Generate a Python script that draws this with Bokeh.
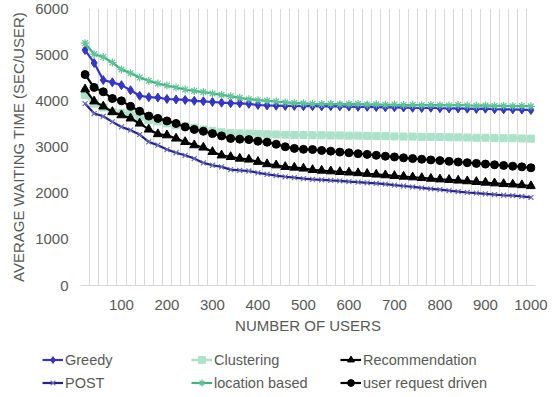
from bokeh.plotting import figure
from bokeh.layouts import column, row
from bokeh.models import FixedTicker, Legend, LegendItem, Range1d
from bokeh.embed import file_html
from bokeh.resources import INLINE

users = list(range(20, 1001, 20))

greedy = [5100, 4820, 4450, 4400, 4340, 4230, 4110, 4080, 4070, 4040,
          4030, 4020, 4000, 3990, 3975, 3960, 3950, 3945, 3935, 3910,
          3900, 3895, 3890, 3890, 3885, 3885, 3880, 3885, 3880, 3875,
          3870, 3870, 3865, 3860, 3860, 3855, 3850, 3845, 3850, 3840,
          3835, 3835, 3830, 3825, 3830, 3820, 3815, 3815, 3810, 3800]

clustering = [4120, 3940, 3855, 3760, 3740, 3720, 3650, 3580, 3555, 3510,
              3470, 3450, 3420, 3380, 3350, 3320, 3300, 3295, 3290, 3280,
              3275, 3270, 3265, 3260, 3260, 3255, 3255, 3250, 3250, 3245,
              3245, 3240, 3235, 3235, 3230, 3225, 3225, 3220, 3220, 3215,
              3210, 3210, 3205, 3200, 3200, 3195, 3190, 3190, 3185, 3180]

recommendation = [4250, 3990, 3880, 3760, 3690, 3620, 3510, 3380, 3280, 3255,
                  3185, 3110, 3040, 2990, 2895, 2820, 2785, 2750, 2730, 2680,
                  2630, 2605, 2570, 2555, 2535, 2505, 2490, 2475, 2460, 2450,
                  2435, 2420, 2405, 2390, 2375, 2360, 2345, 2330, 2315, 2300,
                  2290, 2275, 2260, 2245, 2230, 2215, 2200, 2190, 2175, 2155]

post = [3940, 3725, 3665, 3545, 3435, 3365, 3270, 3110, 3040, 2945,
        2875, 2820, 2750, 2655, 2605, 2570, 2510, 2495, 2480, 2440,
        2410, 2380, 2355, 2335, 2315, 2300, 2290, 2275, 2265, 2250,
        2240, 2225, 2210, 2195, 2175, 2155, 2135, 2115, 2095, 2075,
        2055, 2035, 2015, 2000, 1985, 1970, 1955, 1945, 1930, 1910]

location_based = [5250, 5010, 4950, 4830, 4680, 4600, 4505, 4435, 4375, 4330,
                  4290, 4245, 4215, 4190, 4160, 4130, 4100, 4065, 4035, 4015,
                  4000, 3985, 3965, 3955, 3945, 3935, 3930, 3935, 3925, 3930,
                  3935, 3920, 3925, 3915, 3920, 3910, 3915, 3905, 3910, 3905,
                  3900, 3910, 3900, 3895, 3900, 3890, 3895, 3885, 3890, 3880]

user_request = [4570, 4290, 4195, 4050, 4000, 3880, 3775, 3670, 3620, 3565,
                3510, 3435, 3380, 3340, 3290, 3240, 3185, 3170, 3160, 3125,
                3105, 3060, 3005, 2970, 2950, 2945, 2925, 2910, 2890, 2875,
                2855, 2840, 2820, 2800, 2785, 2765, 2750, 2735, 2720, 2705,
                2690, 2675, 2660, 2645, 2630, 2615, 2600, 2585, 2570, 2550]

x_ticks = [100, 200, 300, 400, 500, 600, 700, 800, 900, 1000]
y_ticks = [0, 1000, 2000, 3000, 4000, 5000, 6000]

FONT = "Liberation Sans"
TXT = "#595959"
GRID = "#D9D9D9"

p = figure(frame_width=455, frame_height=277, output_backend="svg", toolbar_location=None,
           x_range=Range1d(10, 1010), y_range=Range1d(0, 6000),
           min_border_left=80, min_border_right=19, min_border_top=8,
           min_border_bottom=57)
p.outline_line_color = None
p.background_fill_color = "white"
p.border_fill_color = "white"

p.xaxis.ticker = FixedTicker(ticks=x_ticks)
p.yaxis.ticker = FixedTicker(ticks=y_ticks)
p.xgrid.ticker = FixedTicker(ticks=[10 + 20 * k for k in range(51)])
p.xgrid.grid_line_color = GRID
p.xgrid.grid_line_width = 1
p.ygrid.visible = False

for ax in (p.xaxis[0], p.yaxis[0]):
    ax.major_tick_line_color = None
    ax.minor_tick_line_color = None
    ax.major_tick_out = 0
    ax.major_tick_in = 0
    ax.major_label_text_font = FONT
    ax.major_label_text_font_size = "15px"
    ax.major_label_text_color = TXT
    ax.axis_label_text_font = FONT
    ax.axis_label_text_font_size = "15px"
    ax.axis_label_text_font_style = "normal"
    ax.axis_label_text_color = TXT

p.xaxis.axis_line_color = GRID
p.yaxis.axis_line_color = None
p.xaxis.major_label_standoff = 14
p.yaxis.major_label_standoff = 12
p.xaxis.axis_label = "NUMBER OF USERS"
p.yaxis.axis_label = "AVERAGE WAITING TIME (SEC/USER)"
p.xaxis.axis_label_standoff = 4
p.yaxis.axis_label_standoff = 5

# legend lives in its own strip below the chart
leg = figure(width=554, height=55, output_backend="svg", toolbar_location=None,
             x_range=Range1d(0, 1), y_range=Range1d(-2, -1),
             x_axis_type=None, y_axis_type=None, min_border=0,
             min_border_left=0, min_border_right=0, min_border_top=0, min_border_bottom=0)
leg.outline_line_color = None
leg.grid.visible = False
leg.background_fill_color = "white"
leg.border_fill_color = "white"

series = {}

def add(name, ys, color, marker, size, mcolor=None, lw=2.2, mlw=1.0):
    mcolor = mcolor or color
    rs = []
    for fig in (p, leg):
        ln = fig.line(users, ys, line_color=color, line_width=lw)
        sc = fig.scatter(users, ys, marker=marker, size=size, fill_color=mcolor,
                         line_color=mcolor, line_width=mlw)
        rs.append([ln, sc])
    series[name] = rs[1]

add("Greedy", greedy, "#3434C8", "diamond", 9)
add("POST", post, "#24248A", "x", 7, mcolor="#6A6AC0", mlw=1.2)
add("Clustering", clustering, "#AAE3C9", "square", 7, lw=2.5)
add("location based", location_based, "#3CB47E", "asterisk", 8, mcolor="#5FC596", mlw=1.2)
add("Recommendation", recommendation, "#000000", "triangle", 9)
add("user request driven", user_request, "#000000", "circle", 8)

order = ["Greedy", "Clustering", "Recommendation", "POST", "location based", "user request driven"]
legend = Legend(items=[LegendItem(label=n, renderers=series[n]) for n in order],
                location=(42, 6), orientation="horizontal", ncols=3,
                glyph_width=21, glyph_height=17, label_height=17, label_width=120,
                label_standoff=2, spacing=6, padding=0, margin=0,
                border_line_color=None, background_fill_alpha=0,
                label_text_font=FONT, label_text_font_size="14.5px",
                label_text_color=TXT)
leg.add_layout(legend, "center")

layout = column(p, row(leg, spacing=0), spacing=0)
open("out.html", "w").write(file_html(layout, INLINE))
